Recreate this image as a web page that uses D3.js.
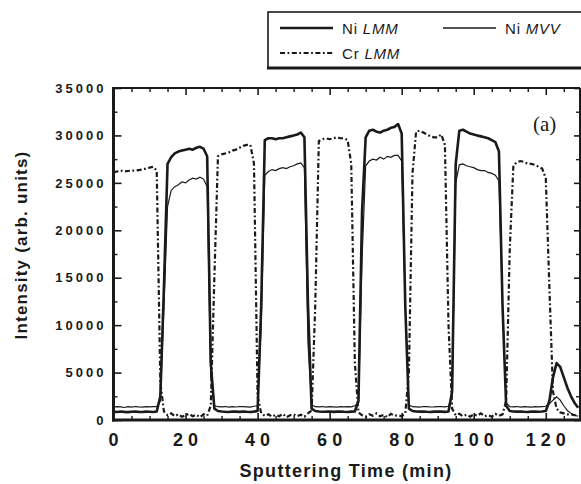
<!DOCTYPE html>
<html>
<head>
<meta charset="utf-8" />
<title>Ni / Cr depth profile</title>
<script src="https://cdnjs.cloudflare.com/ajax/libs/d3/7.8.5/d3.min.js"></script>
<style>
  body { margin: 0; background: #fff; }
  svg { display: block; }
  .tick line { stroke: #1a1a1a; }
</style>
</head>
<body>
<svg id="chart" width="581" height="484"></svg>
<script>
// sampling times (min)
var minutes = [
  0, 1, 2, 3, 4, 5, 6, 7, 8, 9,
  10, 11, 12, 13, 14, 15, 16, 17, 18, 19,
  20, 21, 22, 23, 24, 25, 26, 27, 28, 29,
  30, 31, 32, 33, 34, 35, 36, 37, 38, 39,
  40, 41, 42, 43, 44, 45, 46, 47, 48, 49,
  50, 51, 52, 53, 54, 55, 56, 57, 58, 59,
  60, 61, 62, 63, 64, 65, 66, 67, 68, 69,
  70, 71, 72, 73, 74, 75, 76, 77, 78, 79,
  80, 81, 82, 83, 84, 85, 86, 87, 88, 89,
  90, 91, 92, 93, 94, 95, 96, 97, 98, 99,
  100, 101, 102, 103, 104, 105, 106, 107, 108, 109,
  110, 111, 112, 113, 114, 115, 116, 117, 118, 119,
  120, 121, 122, 123, 124, 125, 126, 127, 128, 129
];

// Ni LMM intensity (thick solid)
var niLmm = [
  880, 850, 900, 860, 830, 870, 900, 860, 840, 880,
  870, 850, 900, 2500, 14000, 27000, 27700, 28100, 28300, 28400,
  28500, 28600, 28500, 28700, 28800, 28600, 27800, 6000, 1200, 950,
  900, 870, 850, 900, 880, 860, 900, 870, 850, 880,
  950, 12000, 29500, 29700, 29700, 29600, 29700, 29700, 29800, 29900,
  30000, 30100, 30300, 29800, 12000, 1200, 950, 900, 870, 880,
  900, 860, 880, 900, 870, 850, 880, 900, 2000, 22000,
  29800, 30500, 30600, 30400, 30300, 30500, 30600, 30800, 30900, 31200,
  30200, 12000, 1200, 950, 900, 880, 900, 870, 850, 880,
  900, 880, 860, 900, 3000, 27000, 30500, 30600, 30400, 30200,
  30100, 30000, 29900, 29800, 29700, 29500, 29300, 28300, 12000, 1500,
  950, 900, 880, 900, 870, 850, 880, 900, 870, 900,
  950, 2000, 4500, 6000, 5600, 4500, 3400, 2500, 1800, 1300
];

// Ni MVV intensity (thin solid)
var niMvv = [
  1350, 1400, 1380, 1320, 1400, 1360, 1420, 1380, 1350, 1400,
  1380, 1420, 1400, 2000, 12000, 22500, 24200, 24600, 24800, 25100,
  25000, 25300, 25500, 25400, 25600, 25400, 24600, 4500, 1500, 1400,
  1380, 1420, 1350, 1400, 1370, 1420, 1400, 1380, 1360, 1450,
  1500, 10000, 25800, 26200, 26400, 26300, 26500, 26600, 26500, 26700,
  26800, 27000, 27100, 26600, 8000, 1600, 1400, 1380, 1420, 1350,
  1400, 1380, 1360, 1410, 1390, 1420, 1380, 1500, 1800, 17000,
  26800, 27300, 27500, 27400, 27700, 27500, 27800, 27700, 27900, 27900,
  27300, 12000, 1600, 1400, 1380, 1350, 1420, 1400, 1370, 1390,
  1420, 1400, 1380, 1450, 2500, 25000, 26900, 27000, 26800, 26700,
  26600, 26400, 26300, 26300, 26100, 26000, 25800, 25200, 12000, 1800,
  1400, 1380, 1420, 1350, 1400, 1380, 1360, 1410, 1390, 1420,
  1450, 1700, 2100, 2450, 2100, 1500, 1000, 700, 500, 400
];

// Cr LMM intensity (dash-dot)
var crLmm = [
  26100, 26200, 26300, 26200, 26250, 26300, 26300, 26350, 26400, 26500,
  26600, 26700, 26300, 4000, 900, 500, 700, 400, 600, 350,
  500, 650, 400, 550, 300, 600, 450, 1500, 15000, 27800,
  28000, 28100, 28200, 28400, 28500, 28700, 28900, 29000, 29000, 27000,
  2500, 700, 450, 600, 350, 550, 400, 650, 300, 500,
  600, 400, 550, 350, 700, 1000, 12000, 29400, 29600, 29700,
  29600, 29700, 29800, 29700, 29700, 29500, 27000, 6000, 800, 500,
  350, 600, 450, 700, 400, 550, 300, 650, 450, 500,
  400, 700, 5000, 26000, 30400, 30500, 30300, 30100, 29900, 29800,
  29800, 30100, 29000, 10000, 1200, 500, 650, 400, 550, 350,
  600, 450, 700, 400, 500, 350, 650, 450, 600, 2000,
  18000, 26800, 27200, 27300, 27200, 27000, 27000, 26900, 26700, 26500,
  25500, 14000, 3000, 1200, 800, 700, 600, 600, 500, 500
];

var xTicks = [0, 20, 40, 60, 80, 100, 120];
var xMinor = [5, 10, 15, 25, 30, 35, 45, 50, 55, 65, 70, 75, 85, 90, 95, 105, 110, 115, 125];
var yTicks = [0, 5000, 10000, 15000, 20000, 25000, 30000, 35000];
var yMinor = [2500, 7500, 12500, 17500, 22500, 27500, 32500];

var ink = "#1a1a1a";
var svg = d3.select("#chart");

var plotLeft = 113.5, plotRight = 580, plotTop = 88, plotBottom = 420;

var x = d3.scaleLinear().domain([0, 129.5]).range([plotLeft, plotRight]);
var y = d3.scaleLinear().domain([0, 35000]).range([plotBottom, plotTop]);

function lineFor(values) {
  return d3.line()
    .x(function(d, i) { return x(minutes[i]); })
    .y(function(d) { return y(d); })(values);
}

// data lines
svg.append("path")
  .attr("d", lineFor(crLmm))
  .attr("fill", "none")
  .attr("stroke", ink)
  .attr("stroke-width", 2.2)
  .attr("stroke-dasharray", "5,2.5,1.8,2.5");

svg.append("path")
  .attr("d", lineFor(niMvv))
  .attr("fill", "none")
  .attr("stroke", ink)
  .attr("stroke-width", 1.2);

svg.append("path")
  .attr("d", lineFor(niLmm))
  .attr("fill", "none")
  .attr("stroke", ink)
  .attr("stroke-width", 2.6)
  .attr("stroke-linejoin", "round");

// y axis, ticks pointing in
var yAxis = svg.append("g")
  .attr("transform", "translate(" + plotLeft + ",0)")
  .call(d3.axisLeft(y).tickValues(yTicks).tickSize(-8).tickPadding(7)
    .tickFormat(d3.format("d")));
yAxis.select(".domain").remove();
yAxis.selectAll("text")
  .attr("fill", ink)
  .style("font-family", "'Liberation Sans', Arial, sans-serif")
  .style("font-weight", "bold")
  .style("font-size", "13px")
  .style("letter-spacing", "3px");
yAxis.selectAll(".tick line").attr("stroke-width", 1.6);

svg.append("g")
  .attr("transform", "translate(" + plotLeft + ",0)")
  .call(d3.axisLeft(y).tickValues(yMinor).tickSize(-4).tickFormat(""))
  .call(function(g) { g.select(".domain").remove(); })
  .selectAll(".tick line").attr("stroke-width", 1.4);

// right side ticks
svg.append("g")
  .attr("transform", "translate(" + plotRight + ",0)")
  .call(d3.axisRight(y).tickValues(yTicks).tickSize(-6).tickFormat(""))
  .call(function(g) { g.select(".domain").remove(); })
  .selectAll(".tick line").attr("stroke-width", 1.6);
svg.append("g")
  .attr("transform", "translate(" + plotRight + ",0)")
  .call(d3.axisRight(y).tickValues(yMinor).tickSize(-4).tickFormat(""))
  .call(function(g) { g.select(".domain").remove(); })
  .selectAll(".tick line").attr("stroke-width", 1.4);

// x axis
var xAxis = svg.append("g")
  .attr("transform", "translate(0," + plotBottom + ")")
  .call(d3.axisBottom(x).tickValues(xTicks).tickSize(-7).tickPadding(13)
    .tickFormat(d3.format("d")));
xAxis.select(".domain").remove();
xAxis.selectAll("text")
  .attr("fill", ink)
  .attr("dx", "2px")
  .style("font-family", "'Liberation Sans', Arial, sans-serif")
  .style("font-weight", "bold")
  .style("font-size", "18px")
  .style("letter-spacing", "5px");
xAxis.selectAll(".tick line").attr("stroke-width", 1.6);

svg.append("g")
  .attr("transform", "translate(0," + plotBottom + ")")
  .call(d3.axisBottom(x).tickValues(xMinor).tickSize(-4).tickFormat(""))
  .call(function(g) { g.select(".domain").remove(); })
  .selectAll(".tick line").attr("stroke-width", 1.4);

// top ticks
svg.append("g")
  .attr("transform", "translate(0," + plotTop + ")")
  .call(d3.axisTop(x).tickValues(xTicks).tickSize(-7).tickFormat(""))
  .call(function(g) { g.select(".domain").remove(); })
  .selectAll(".tick line").attr("stroke-width", 1.6);
svg.append("g")
  .attr("transform", "translate(0," + plotTop + ")")
  .call(d3.axisTop(x).tickValues(xMinor).tickSize(-4).tickFormat(""))
  .call(function(g) { g.select(".domain").remove(); })
  .selectAll(".tick line").attr("stroke-width", 1.4);

// frame
svg.append("line").attr("x1", plotLeft).attr("x2", plotRight).attr("y1", plotTop).attr("y2", plotTop)
  .attr("stroke", ink).attr("stroke-width", 2);
svg.append("line").attr("x1", plotRight).attr("x2", plotRight).attr("y1", plotTop).attr("y2", plotBottom)
  .attr("stroke", ink).attr("stroke-width", 2);
svg.append("line").attr("x1", plotLeft).attr("x2", plotLeft).attr("y1", plotTop - 1).attr("y2", plotBottom + 1.5)
  .attr("stroke", ink).attr("stroke-width", 3);
svg.append("line").attr("x1", plotLeft - 1.5).attr("x2", plotRight + 1).attr("y1", plotBottom).attr("y2", plotBottom)
  .attr("stroke", ink).attr("stroke-width", 3);

// axis titles
svg.append("text")
  .attr("x", 346).attr("y", 477)
  .attr("text-anchor", "middle")
  .attr("fill", ink)
  .style("font-family", "'Liberation Sans', Arial, sans-serif")
  .style("font-weight", "bold")
  .style("font-size", "18px")
  .style("letter-spacing", "1.3px")
  .text("Sputtering Time (min)");

svg.append("text")
  .attr("transform", "translate(27,245) rotate(-90)")
  .attr("text-anchor", "middle")
  .attr("fill", ink)
  .style("font-family", "'Liberation Sans', Arial, sans-serif")
  .style("font-weight", "bold")
  .style("font-size", "17px")
  .style("letter-spacing", "1.2px")
  .text("Intensity (arb. units)");

// panel label
svg.append("text")
  .attr("x", 533).attr("y", 131)
  .attr("fill", ink)
  .style("font-family", "'Liberation Serif', 'DejaVu Serif', serif")
  .style("font-size", "21px")
  .text("(a)");

// legend
var legend = svg.append("g");
legend.append("rect")
  .attr("x", 268).attr("y", 12).attr("width", 330).attr("height", 56)
  .attr("fill", "#fff").attr("stroke", ink).attr("stroke-width", 1.6);
legend.append("line")
  .attr("x1", 267).attr("x2", 581).attr("y1", 68).attr("y2", 68)
  .attr("stroke", ink).attr("stroke-width", 3);

var legendItems = [
  { el: "Ni", it: "LMM", lx: 280, ly: 28, w: 2.6, dash: null },
  { el: "Ni", it: "MVV", lx: 443, ly: 28, w: 1.3, dash: null },
  { el: "Cr", it: "LMM", lx: 280, ly: 53, w: 2.2, dash: "5,2.5,1.8,2.5" }
];
legendItems.forEach(function(d) {
  legend.append("line")
    .attr("x1", d.lx).attr("x2", d.lx + 53)
    .attr("y1", d.ly).attr("y2", d.ly)
    .attr("stroke", ink).attr("stroke-width", d.w)
    .attr("stroke-dasharray", d.dash);
  var t = legend.append("text")
    .attr("x", d.lx + 62).attr("y", d.ly + 5.5)
    .attr("fill", ink)
    .style("font-family", "'Liberation Sans', Arial, sans-serif")
    .style("font-size", "15px")
    .style("letter-spacing", "0.8px");
  t.append("tspan").text(d.el + " ");
  t.append("tspan").style("font-style", "italic").text(d.it);
});
</script>
</body>
</html>
